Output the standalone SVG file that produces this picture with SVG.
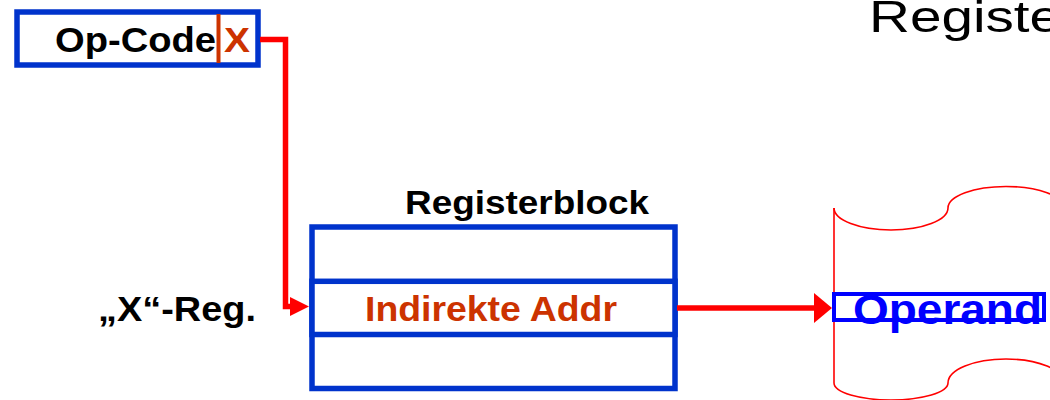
<svg xmlns="http://www.w3.org/2000/svg" width="1050" height="400" viewBox="0 0 1050 400">
  <style>
    .box { fill: #FFFFFF; stroke: #0033CC; stroke-width: 5.5; }
    .lbl { font-family: "Liberation Sans", Arial, sans-serif; font-weight: bold; }
    .blk { fill: #000000; }
    .org { fill: #CC3300; }
    .wire { fill: none; stroke: #FF0000; stroke-width: 5.5; }
    .drum { fill: none; stroke: #FF0000; stroke-width: 1.6; }
  </style>

  <rect width="1050" height="400" fill="#FFFFFF"/>

  <g id="title">
    <text x="869" y="32" font-family="'Liberation Sans', Arial, sans-serif" font-size="45" fill="#000000" textLength="192" lengthAdjust="spacingAndGlyphs">Registe</text>
  </g>

  <g id="opcode">
    <rect class="box" x="17" y="12" width="241" height="53"/>
    <line x1="218.5" y1="14" x2="218.5" y2="63" stroke="#CC3300" stroke-width="4"/>
    <text class="lbl blk" x="55" y="51.5" font-size="35" textLength="161" lengthAdjust="spacingAndGlyphs">Op-Code</text>
    <text class="lbl org" x="224" y="51.5" font-size="35" textLength="26" lengthAdjust="spacingAndGlyphs">X</text>
  </g>

  <g id="xreg">
    <text class="lbl blk" x="98" y="321" font-size="35" textLength="158" lengthAdjust="spacingAndGlyphs">„X“-Reg.</text>
  </g>

  <g id="registerblock">
    <text class="lbl blk" x="405" y="214" font-size="34" textLength="244" lengthAdjust="spacingAndGlyphs">Registerblock</text>
    <rect class="box" x="312" y="227" width="363" height="161.5"/>
    <rect class="box" x="312" y="281.3" width="363" height="53.2"/>
    <text class="lbl org" x="365" y="321" font-size="35" textLength="252" lengthAdjust="spacingAndGlyphs">Indirekte Addr</text>
  </g>

  <g id="memory">
    <path class="drum" d="M834,208 L834,383"/>
    <path class="drum" d="M834,208 A57,22 0 0 0 948,208 A58,21.5 0 0 1 1064,208"/>
    <path class="drum" d="M834,383 A57,17 0 0 0 948,383 A58,24 0 0 1 1064,383"/>
    <rect x="834" y="294" width="210" height="26" fill="#FFFFFF" stroke="#0000FF" stroke-width="4"/>
    <text class="lbl" x="853" y="323.5" font-size="43" fill="#0000FF" textLength="189" lengthAdjust="spacingAndGlyphs">Operand</text>
  </g>

  <g id="connectors">
    <path class="wire" d="M260,39.5 H285.5 V306.5 H290"/>
    <path d="M290,297 L309,306.5 L290,316 Z" fill="#FF0000"/>
    <path class="wire" d="M677,308 H815"/>
    <path d="M814,293 L832,308 L814,323 Z" fill="#FF0000"/>
  </g>
</svg>
